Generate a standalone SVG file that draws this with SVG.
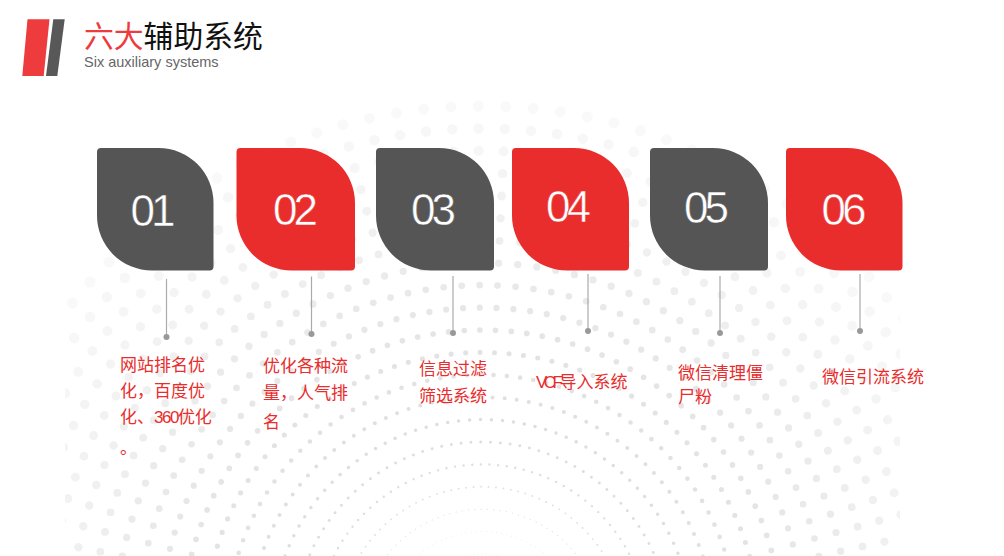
<svg xmlns="http://www.w3.org/2000/svg" width="1004" height="556" viewBox="0 0 1004 556">
<style>
.bg{fill:none;stroke-linecap:round;stroke-dasharray:0 1}
.dk{fill:#555555}.rd{fill:#e92c2c}
.num{font-family:"Liberation Sans",Arial,sans-serif;font-size:44px;fill:#fff;letter-spacing:-4px;text-anchor:middle;stroke-width:.5px;paint-order:fill}
.dn{stroke:#555555}.rn{stroke:#e92c2c}
.lb{font-family:"Noto Sans CJK SC","Liberation Sans",sans-serif;font-size:17px;fill:#e92c2c}
.tg{letter-spacing:-1.5px;font-family:"Liberation Sans",sans-serif}
.tv{letter-spacing:-3.5px;font-family:"Liberation Sans",sans-serif}
.ln{stroke:#aaaaaa;stroke-width:1.2;fill:none}
.pt{fill:#999999}
</style>
<defs><clipPath id="c"><rect x="65" y="0" width="835" height="556"/></clipPath></defs>
<rect width="1004" height="556" fill="#fff"/>
<g id="background" clip-path="url(#c)"><g transform="rotate(-0.4 482 630)">
<circle class="bg" cx="482" cy="630" r="76" pathLength="120" stroke="#e8e8e8" stroke-width=".8"/>
<circle class="bg" cx="482" cy="630" r="98.4" pathLength="120" stroke="#e6e6e6" stroke-width="1"/>
<circle class="bg" cx="482" cy="630" r="120.8" pathLength="120" stroke="#e2e2e2" stroke-width="1.3"/>
<circle class="bg" cx="482" cy="630" r="143.2" pathLength="120" stroke="#e0e0e0" stroke-width="1.9"/>
<circle class="bg" cx="482" cy="630" r="165.6" pathLength="120" stroke="#dedede" stroke-width="2.4"/>
<circle class="bg" cx="482" cy="630" r="188" pathLength="120" stroke="#dedede" stroke-width="3"/>
<circle class="bg" cx="482" cy="630" r="210.4" pathLength="120" stroke="#dedede" stroke-width="3.5"/>
<circle class="bg" cx="482" cy="630" r="232.8" pathLength="120" stroke="#e0e0e0" stroke-width="4"/>
<circle class="bg" cx="482" cy="630" r="255.2" pathLength="120" stroke="#e2e2e2" stroke-width="4.6"/>
<circle class="bg" cx="482" cy="630" r="277.6" pathLength="120" stroke="#e3e3e3" stroke-width="5.1"/>
<circle class="bg" cx="482" cy="630" r="300" pathLength="120" stroke="#e5e5e5" stroke-width="5.7"/>
<circle class="bg" cx="482" cy="630" r="322.4" pathLength="120" stroke="#e7e7e7" stroke-width="6.2"/>
<circle class="bg" cx="482" cy="630" r="344.8" pathLength="120" stroke="#e9e9e9" stroke-width="6.7"/>
<circle class="bg" cx="482" cy="630" r="367.2" pathLength="120" stroke="#ebebeb" stroke-width="7.3"/>
<circle class="bg" cx="482" cy="630" r="389.6" pathLength="120" stroke="#eeeeee" stroke-width="7.8"/>
<circle class="bg" cx="482" cy="630" r="412" pathLength="120" stroke="#f0f0f0" stroke-width="8.4"/>
<circle class="bg" cx="482" cy="630" r="434.4" pathLength="120" stroke="#f2f2f2" stroke-width="8.9"/>
<circle class="bg" cx="482" cy="630" r="456.8" pathLength="120" stroke="#f4f4f4" stroke-width="9.4"/>
<circle class="bg" cx="482" cy="630" r="479.2" pathLength="120" stroke="#f6f6f6" stroke-width="10"/>
<circle class="bg" cx="482" cy="630" r="501.6" pathLength="120" stroke="#f7f7f7" stroke-width="10.5"/>
<circle class="bg" cx="482" cy="630" r="524" pathLength="120" stroke="#f9f9f9" stroke-width="11"/>
</g></g>
<g id="header">
<polygon points="27.5,19.3 49.5,19.3 43.7,76 22.3,76" fill="#ee3b3d"/>
<polygon points="53.3,19.3 64.7,19.3 57.3,76 46,76" fill="#585858"/>
<text x="84" y="47" font-family="'Noto Sans CJK SC',sans-serif" font-size="29.8" fill="#111111"><tspan fill="#ee3b3d">六大</tspan>辅助系统</text>
<text x="84" y="67" font-family="'Liberation Sans',Arial,sans-serif" font-size="14.5" fill="#666666">Six auxiliary systems</text>
</g>
<g id="connectors">
<line class="ln" x1="166.5" y1="279" x2="166.5" y2="336"/><circle class="pt" cx="166.5" cy="337" r="3"/>
<line class="ln" x1="311.5" y1="276.5" x2="311.5" y2="334"/><circle class="pt" cx="311.5" cy="334" r="3"/>
<line class="ln" x1="453" y1="276" x2="453" y2="333"/><circle class="pt" cx="453" cy="333" r="3"/>
<line class="ln" x1="588" y1="274" x2="588" y2="331"/><circle class="pt" cx="588" cy="331" r="3"/>
<line class="ln" x1="720" y1="276" x2="720" y2="333"/><circle class="pt" cx="720" cy="333" r="3"/>
<line class="ln" x1="860" y1="274" x2="860" y2="331"/><circle class="pt" cx="860" cy="331" r="3"/>
</g>
<g id="node1">
<path class="dk" d="M101 148H158.500A55 55 0 0 1 213.500 203V266.500A4 4 0 0 1 209.500 270.500H152A55 55 0 0 1 97 215.500V152A4 4 0 0 1 101 148Z"/>
<text class="num dn" x="151" y="225.500">01</text>
<text class="lb" x="120" y="371">网站排名优</text>
<text class="lb" x="120" y="397">化，百度优</text>
<text class="lb" x="120" y="423">化、<tspan class="tg">360</tspan>优化</text>
<text class="lb" x="120" y="454">。</text>
</g>
<g id="node2">
<path class="rd" d="M240.500 148H300A55 55 0 0 1 355 203V266.500A4 4 0 0 1 351 270.500H291.500A55 55 0 0 1 236.500 215.500V152A4 4 0 0 1 240.500 148Z"/>
<text class="num rn" x="293.500" y="224.500">02</text>
<text class="lb" x="263" y="372">优化各种流</text>
<text class="lb" x="263" y="399">量，人气排</text>
<text class="lb" x="263" y="428">名</text>
</g>
<g id="node3">
<path class="dk" d="M380 148H439A55 55 0 0 1 494 203V266.500A4 4 0 0 1 490 270.500H431A55 55 0 0 1 376 215.500V152A4 4 0 0 1 380 148Z"/>
<text class="num dn" x="431.500" y="224.500">03</text>
<text class="lb" x="419" y="375">信息过滤</text>
<text class="lb" x="419" y="402">筛选系统</text>
</g>
<g id="node4">
<path class="rd" d="M516 148H574A55 55 0 0 1 629 203V266.500A4 4 0 0 1 625 270.500H567A55 55 0 0 1 512 215.500V152A4 4 0 0 1 516 148Z"/>
<text class="num rn" x="566.500" y="222">04</text>
<text class="lb" x="536" y="388"><tspan class="tv">VCF</tspan>导入系统</text>
</g>
<g id="node5">
<path class="dk" d="M654 148H713A55 55 0 0 1 768 203V266.500A4 4 0 0 1 764 270.500H705A55 55 0 0 1 650 215.500V152A4 4 0 0 1 654 148Z"/>
<text class="num dn" x="704.500" y="223">05</text>
<text class="lb" x="678" y="379">微信清理僵</text>
<text class="lb" x="678" y="403">尸粉</text>
</g>
<g id="node6">
<path class="rd" d="M790 148H847.500A55 55 0 0 1 902.500 203V266.500A4 4 0 0 1 898.500 270.500H841A55 55 0 0 1 786 215.500V152A4 4 0 0 1 790 148Z"/>
<text class="num rn" x="842" y="225">06</text>
<text class="lb" x="822" y="383">微信引流系统</text>
</g>
</svg>
